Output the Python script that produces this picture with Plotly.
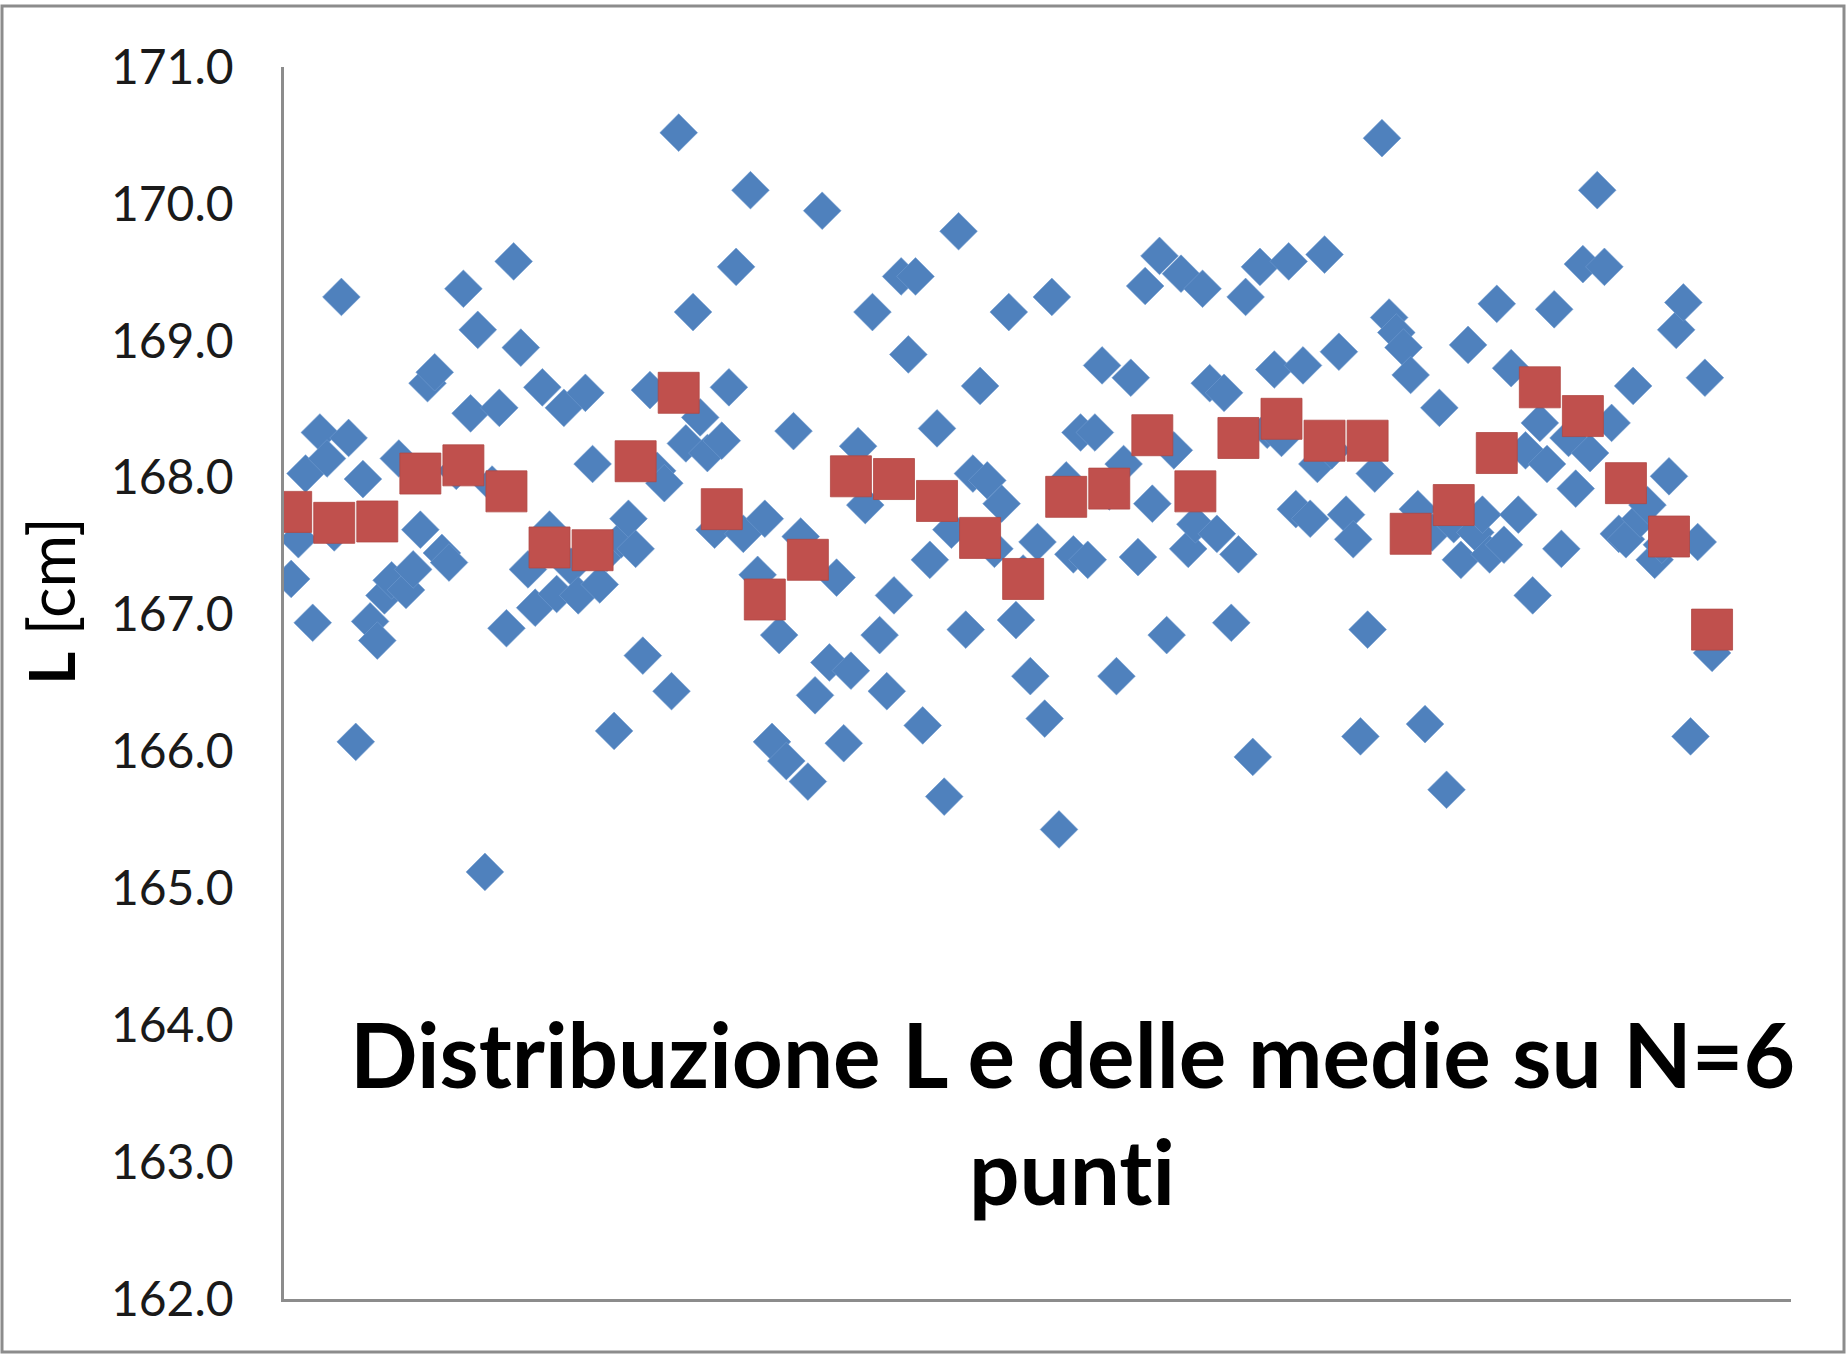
import plotly.graph_objects as go

# ---------------- data ----------------
# individual measurements L (cm), sample 1..199
L_values = [
    167.26, 167.55, 168.03, 166.94, 168.33, 168.14, 167.60, 169.32, 168.29, 166.07,
    167.99, 166.95, 166.81, 167.14, 167.25, 168.14, 167.18, 167.33, 167.62, 168.69,
    168.77, 167.45, 167.38, 168.05, 169.38, 168.47, 169.08, 165.12, 167.95, 168.51,
    166.90, 169.58, 168.95, 167.33, 167.05, 168.66, 167.62, 167.15, 168.51, 167.35,
    167.14, 168.62, 168.10, 167.22, 167.45, 166.15, 167.55, 167.70, 167.48, 166.70,
    168.64, 168.05, 167.96, 166.44, 170.52, 168.25, 169.21, 168.44, 168.18, 167.62,
    168.27, 168.66, 169.54, 167.59, 170.10, 167.29, 167.70, 166.07, 166.85, 165.93,
    168.34, 167.57, 165.78, 166.41, 169.95, 166.65, 167.27, 166.06, 166.59, 168.23,
    167.80, 169.21, 166.85, 166.44, 167.14, 169.47, 168.90, 169.47, 166.19, 167.40,
    168.36, 165.67, 167.62, 169.80, 166.89, 168.03, 168.67, 167.98, 167.48, 167.81,
    169.21, 166.96, 167.30, 166.55, 167.53, 166.24, 169.32, 165.43, 167.98, 167.44,
    168.33, 167.40, 168.33, 168.82, 167.90, 166.55, 168.10, 168.73, 167.42, 169.40,
    167.81, 169.62, 166.85, 168.20, 169.49, 167.48, 167.66, 169.38, 168.69, 167.59,
    168.62, 166.94, 167.44, 169.32, 165.96, 169.54, 168.35, 168.79, 168.29, 169.58,
    167.77, 168.82, 167.70, 168.10, 169.63, 168.20, 168.92, 167.73, 167.55, 166.11,
    166.89, 168.03, 170.48, 169.17, 169.06, 168.95, 168.75, 167.77, 166.20, 167.60,
    168.51, 165.72, 167.66, 167.40, 168.97, 167.60, 167.73, 167.44, 169.27, 167.51,
    168.80, 167.73, 168.20, 167.14, 168.40, 168.10, 169.23, 167.48, 168.29, 167.92,
    169.56, 168.18, 170.10, 169.54, 168.40, 167.59, 167.55, 168.67, 167.70, 167.80,
    167.40, 167.51, 168.01, 169.08, 169.28, 166.11, 167.53, 168.73, 166.72,
]
sample_idx = list(range(1, len(L_values) + 1))

# means over N=6 points, plotted at first sample of each group
mean_values = [
    167.75, 167.67, 167.68, 168.03, 168.09, 167.90, 167.49, 167.47, 168.12, 168.62,
    167.77, 167.11, 167.40, 168.01, 167.99, 167.83, 167.56, 167.26, 167.86, 167.92,
    168.31, 167.90, 168.29, 168.43, 168.27, 168.27, 167.59, 167.80, 168.18, 168.66,
    168.45, 167.96, 167.57, 166.89,
]
N = 6
mean_idx = [1 + N * k for k in range(len(mean_values))]

y_ticks = [162, 163, 164, 165, 166, 167, 168, 169, 170, 171]
y_title = "<b>L</b> [cm]"
title_line1 = "Distribuzione L e delle medie su N=6"
title_line2 = "punt\u200ci"

# ---------------- figure ----------------
W, H = 1848, 1356
ML, MR, MT, MB = 284, 57, 67, 57
PW, PH = W - ML - MR, H - MT - MB

def px_to_paper_x(x):
    return (x - ML) / PW

def px_to_paper_y(y):
    return (H - MB - y) / PH

FONT = "Lato, Carlito, Calibri, 'Open Sans', sans-serif"

fig = go.Figure()
fig.add_trace(go.Scatter(
    x=sample_idx, y=L_values, mode="markers",
    marker=dict(symbol="diamond", size=29, color="#4F81BD",
                line=dict(width=0.6, color="#6f9bd0")),
    showlegend=False, hoverinfo="x+y",
))
fig.add_trace(go.Scatter(
    x=mean_idx, y=mean_values, mode="markers",
    marker=dict(symbol="square", size=41, color="#C0504D",
                line=dict(width=0.8, color="#b04744")),
    showlegend=False, hoverinfo="x+y",
))

fig.update_layout(
    width=W, height=H,
    margin=dict(l=ML, r=MR, t=MT, b=MB, pad=0),
    paper_bgcolor="white", plot_bgcolor="white",
    font=dict(family=FONT, color="#1a1a1a"),
    xaxis=dict(range=[0, 210], showgrid=False, zeroline=False,
               showticklabels=False, ticks="", showline=True,
               linecolor="#8c8c8c", linewidth=2.5),
    yaxis=dict(range=[162, 171], tickvals=y_ticks, tickformat=".1f",
               showgrid=False, zeroline=False, ticks="",
               showline=True, linecolor="#8c8c8c", linewidth=2.5,
               tickfont=dict(size=48, family=FONT, color="#1a1a1a"),
               ticklabelstandoff=38),
    annotations=[
        dict(text=y_title, xref="paper", yref="paper",
             x=px_to_paper_x(50), y=px_to_paper_y(601),
             xanchor="center", yanchor="middle", textangle=-90,
             showarrow=False, font=dict(size=64, family=FONT, color="#000000")),
        dict(text="<b>" + title_line1 + "</b>", xref="paper", yref="paper",
             x=px_to_paper_x(1072), y=px_to_paper_y(1053),
             xanchor="center", yanchor="middle", showarrow=False,
             font=dict(size=89, family=FONT, color="#000000")),
        dict(text="<b>" + title_line2 + "</b>", xref="paper", yref="paper",
             x=px_to_paper_x(1072), y=px_to_paper_y(1170),
             xanchor="center", yanchor="middle", showarrow=False,
             font=dict(size=89, family=FONT, color="#000000")),
    ],
    shapes=[
        dict(type="rect", xref="paper", yref="paper",
             x0=px_to_paper_x(2), x1=px_to_paper_x(W - 4),
             y0=px_to_paper_y(H - 4), y1=px_to_paper_y(6),
             line=dict(color="#8c8c8c", width=3), layer="below"),
    ],
)

fig.write_html("out.html", config={"displayModeBar": False},
               post_script="document.body.style.margin='0';")
